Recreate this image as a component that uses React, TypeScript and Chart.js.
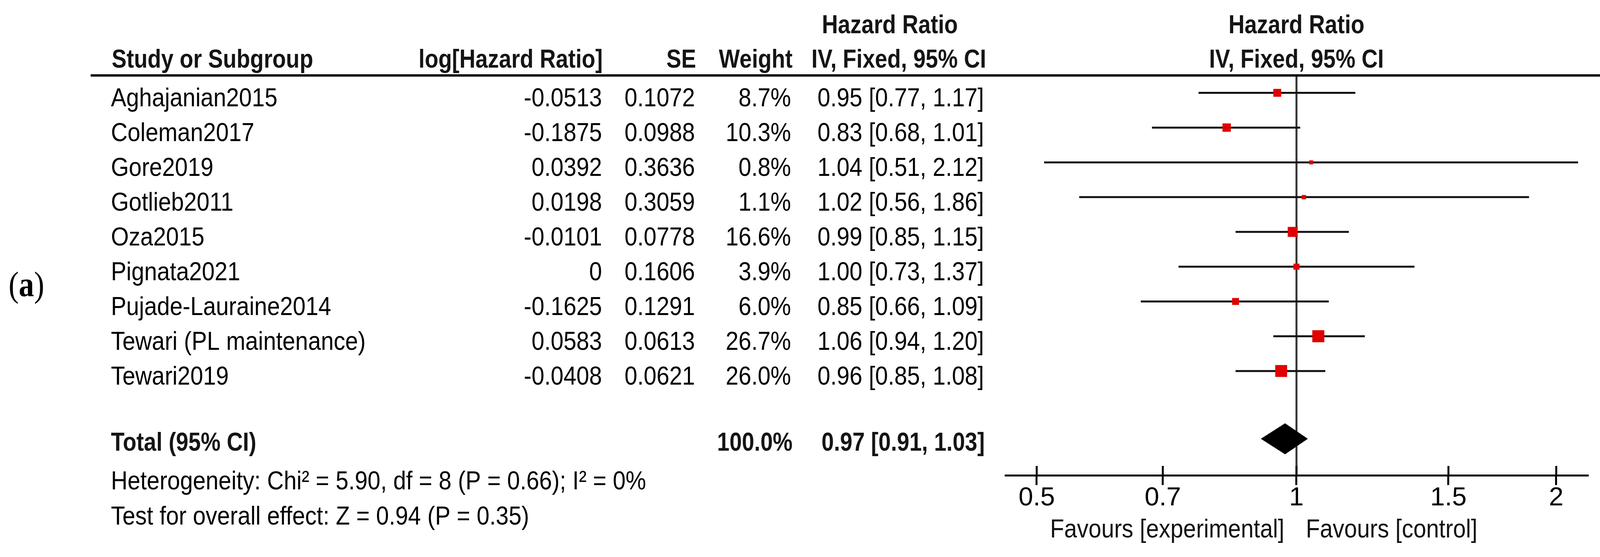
import React, { useEffect, useRef } from 'react';
import { Chart, registerables } from 'chart.js';

Chart.register(...registerables);

// ---------------- data ----------------
const studies = [
  'Aghajanian2015',
  'Coleman2017',
  'Gore2019',
  'Gotlieb2011',
  'Oza2015',
  'Pignata2021',
  'Pujade-Lauraine2014',
  'Tewari (PL maintenance)',
  'Tewari2019',
];
const logHazardRatios = [-0.0513, -0.1875, 0.0392, 0.0198, -0.0101, 0, -0.1625, 0.0583, -0.0408];
const standardErrors = [0.1072, 0.0988, 0.3636, 0.3059, 0.0778, 0.1606, 0.1291, 0.0613, 0.0621];
const weights = [8.7, 10.3, 0.8, 1.1, 16.6, 3.9, 6.0, 26.7, 26.0];
const hazardRatios = [0.95, 0.83, 1.04, 1.02, 0.99, 1.0, 0.85, 1.06, 0.96];
const ciLower = [0.77, 0.68, 0.51, 0.56, 0.85, 0.73, 0.66, 0.94, 0.85];
const ciUpper = [1.17, 1.01, 2.12, 1.86, 1.15, 1.37, 1.09, 1.2, 1.08];

const totalLabel = 'Total (95% CI)';
const totalWeight = 100.0;
const totalHR = 0.97;
const totalLower = 0.91;
const totalUpper = 1.03;

const tickValues = [0.5, 0.7, 1, 1.5, 2];
const tickLabels = ['0.5', '0.7', '1', '1.5', '2'];

const headerTop = 'Hazard Ratio';
const headerSub = 'IV, Fixed, 95% CI';
const columnHeaders = ['Study or Subgroup', 'log[Hazard Ratio]', 'SE', 'Weight'];
const heterogeneityText = 'Heterogeneity: Chi² = 5.90, df = 8 (P = 0.66); I² = 0%';
const overallEffectText = 'Test for overall effect: Z = 0.94 (P = 0.35)';
const favoursLeft = 'Favours [experimental]';
const favoursRight = 'Favours [control]';
const panelLabel = ['(', 'a', ')'];

const axisMin = 0.46;
const axisMax = 2.174;

// ---------------- layout / style ----------------
const W = 4138;
const H = 1425;
const FONT = '"Liberation Sans", Arial, Helvetica, sans-serif';
const SERIF = '"Liberation Serif", "Times New Roman", serif';
const FS = 67;
const SX = 0.88;
const SXB = 0.85;
const TOTAL_ROW = 9.95;
const DIAMOND_HALF = 0.44;
const RED = '#e00000';

const fmtCI = (h: number, l: number, u: number) =>
  `${h.toFixed(2)} [${l.toFixed(2)}, ${u.toFixed(2)}]`;

function drawText(
  ctx: CanvasRenderingContext2D,
  s: string,
  x: number,
  y: number,
  align: CanvasTextAlign,
  bold: boolean,
  color = '#000',
  size = FS,
  family = FONT,
  sx?: number
) {
  ctx.save();
  ctx.font = `${bold ? 'bold ' : ''}${size}px ${family}`;
  ctx.textAlign = align;
  ctx.textBaseline = 'alphabetic';
  ctx.fillStyle = color;
  ctx.translate(x, y);
  ctx.scale(sx ?? (bold ? SXB : SX), 1);
  ctx.fillText(s, 0, 0);
  ctx.restore();
}

const forestPlugin = {
  id: 'forestTable',
  afterDatasetsDraw(chart: any) {
    // upward half of the axis ticks (ticks cross the axis line)
    const ctx: CanvasRenderingContext2D = chart.ctx;
    const xs = chart.scales.x;
    const bottom = chart.chartArea.bottom;
    ctx.save();
    ctx.strokeStyle = '#000';
    ctx.lineWidth = 5;
    xs.ticks.forEach((t: any) => {
      const px = xs.getPixelForValue(t.value);
      ctx.beginPath();
      ctx.moveTo(px, bottom - 24);
      ctx.lineTo(px, bottom);
      ctx.stroke();
    });
    ctx.restore();
  },
  afterDraw(chart: any) {
    const ctx: CanvasRenderingContext2D = chart.ctx;
    const ys = chart.scales.y;
    const xs = chart.scales.x;
    const area = chart.chartArea;
    const headColor = '#151515';

    // header rule
    ctx.save();
    ctx.fillStyle = '#000';
    ctx.fillRect(232, area.top - 3, 4115 - 232, 6);
    ctx.restore();

    // headers
    drawText(ctx, headerTop, 2278, 85, 'center', true, headColor);
    drawText(ctx, headerSub, 2301, 173, 'center', true, headColor);
    const x1 = xs.getPixelForValue(1);
    drawText(ctx, headerTop, x1, 85, 'center', true, headColor);
    drawText(ctx, headerSub, x1, 173, 'center', true, headColor);
    drawText(ctx, columnHeaders[0], 286, 173, 'left', true, headColor);
    drawText(ctx, columnHeaders[1], 1543, 173, 'right', true, headColor);
    drawText(ctx, columnHeaders[2], 1782, 173, 'right', true, headColor);
    drawText(ctx, columnHeaders[3], 2029, 173, 'right', true, headColor);

    // study rows
    studies.forEach((name, i) => {
      const y = ys.getPixelForValue(i) + 35;
      drawText(ctx, name, 284, y, 'left', false);
      drawText(ctx, String(logHazardRatios[i]), 1541, y, 'right', false);
      drawText(ctx, String(standardErrors[i]), 1779, y, 'right', false);
      drawText(ctx, `${weights[i].toFixed(1)}%`, 2025, y, 'right', false);
      drawText(ctx, fmtCI(hazardRatios[i], ciLower[i], ciUpper[i]), 2519, y, 'right', false);
    });

    // total row
    const ty = ys.getPixelForValue(TOTAL_ROW) + 30;
    drawText(ctx, totalLabel, 284, ty, 'left', true, headColor);
    drawText(ctx, `${totalWeight.toFixed(1)}%`, 2029, ty, 'right', true, headColor);
    drawText(ctx, fmtCI(totalHR, totalLower, totalUpper), 2521, ty, 'right', true, headColor);

    // footer
    drawText(ctx, heterogeneityText, 284, 1252, 'left', false);
    drawText(ctx, overallEffectText, 284, 1342, 'left', false);

    // favours
    drawText(ctx, favoursLeft, x1 - 31, 1375, 'right', false, '#111');
    drawText(ctx, favoursRight, x1 + 24, 1375, 'left', false, '#111');

    // panel label (a)
    ctx.save();
    let px = 22;
    const sxa = 0.87;
    panelLabel.forEach((part, k) => {
      const bold = k === 1;
      ctx.font = `${bold ? 'bold ' : ''}90px ${SERIF}`;
      const w = ctx.measureText(part).width * sxa;
      drawText(ctx, part, px, 758, 'left', bold, '#000', 90, SERIF, sxa);
      px += w;
    });
    ctx.restore();
  },
};

export default function App() {
  const ref = useRef<HTMLCanvasElement | null>(null);

  useEffect(() => {
    const canvas = ref.current;
    if (!canvas) return;

    const ciDatasets = studies.map((s, i) => ({
      type: 'line' as const,
      label: s,
      data: [
        { x: ciLower[i], y: i },
        { x: ciUpper[i], y: i },
      ],
      borderColor: '#111',
      borderWidth: 5,
      borderCapStyle: 'butt' as const,
      pointRadius: 0,
      fill: false,
      order: 2,
    }));

    const chart = new Chart(canvas, {
      type: 'scatter',
      data: {
        datasets: [
          {
            type: 'line',
            label: 'diamond',
            data: [
              { x: totalLower, y: TOTAL_ROW },
              { x: totalHR, y: TOTAL_ROW - DIAMOND_HALF },
              { x: totalUpper, y: TOTAL_ROW },
              { x: totalHR, y: TOTAL_ROW + DIAMOND_HALF },
              { x: totalLower, y: TOTAL_ROW },
            ],
            borderColor: '#000',
            borderWidth: 1,
            backgroundColor: '#000',
            fill: 'shape',
            pointRadius: 0,
            tension: 0,
            order: 0,
          } as any,
          {
            type: 'scatter',
            label: 'HR',
            data: hazardRatios.map((h, i) => ({ x: h, y: i })),
            pointStyle: 'rect',
            pointRadius: (c: any) => (6 + 4.8 * Math.sqrt(weights[c.dataIndex] ?? 1)) / Math.SQRT2,
            backgroundColor: RED,
            borderColor: RED,
            borderWidth: 0,
            order: 1,
          } as any,
          ...ciDatasets,
          {
            type: 'line',
            label: 'no effect',
            data: [
              { x: 1, y: -0.5 },
              { x: 1, y: 11 },
            ],
            borderColor: '#333',
            borderWidth: 5,
            pointRadius: 0,
            fill: false,
            order: 3,
          } as any,
        ],
      },
      options: {
        animation: false,
        responsive: true,
        maintainAspectRatio: false,
        layout: { padding: { left: 2574, right: 74, top: 193, bottom: 0 } },
        plugins: {
          legend: { display: false },
          tooltip: { enabled: false },
        },
        scales: {
          x: {
            type: 'logarithmic',
            position: 'bottom',
            min: axisMin,
            max: axisMax,
            afterBuildTicks: (s: any) => {
              s.ticks = tickValues.map((v) => ({ value: v }));
            },
            afterFit: (s: any) => {
              s.height = 209;
            },
            ticks: {
              callback: (_v: any, i: number) => tickLabels[i],
              font: { family: FONT, size: FS, lineHeight: 1 },
              color: '#000',
              padding: 0,
              maxRotation: 0,
              autoSkip: false,
            },
            grid: {
              display: true,
              drawOnChartArea: false,
              drawTicks: true,
              tickLength: 25,
              lineWidth: 5,
              color: '#000',
            },
            border: { display: true, width: 5, color: '#000' },
          },
          y: {
            type: 'linear',
            reverse: true,
            min: -0.5,
            max: 11,
            display: false,
          },
        },
      } as any,
      plugins: [forestPlugin],
    });

    return () => chart.destroy();
  }, []);

  return (
    <div
      style={{
        position: 'fixed',
        left: 0,
        top: 0,
        width: W,
        height: H,
        background: '#fff',
      }}
    >
      <canvas ref={ref} />
    </div>
  );
}
